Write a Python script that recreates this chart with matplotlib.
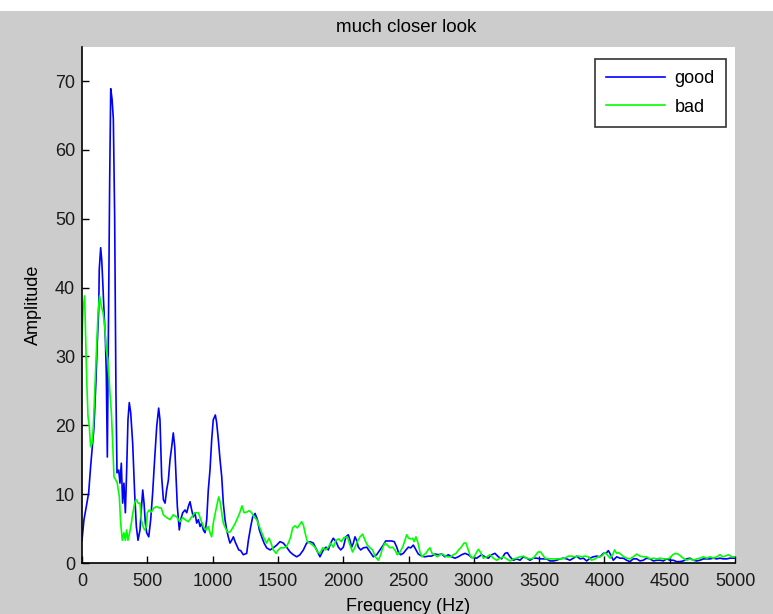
import numpy as np
import matplotlib
matplotlib.use('Agg')
import matplotlib.pyplot as plt
from matplotlib.patches import Rectangle

# readings taken off the spectrum plot (Hz, amplitude)
good_freq = [0, 15, 33, 51, 66, 77, 92, 107, 117, 128, 132, 143, 151, 158, 168, 179, 186, 194, 205, 212,
             220, 230, 240, 250, 260, 268, 281, 291, 301, 311, 321, 332, 342, 352, 362, 373, 388, 403, 416, 429,
             444, 454, 465, 475, 485, 495, 511, 526, 541, 556, 572, 587, 597, 610, 623, 636, 648, 661, 674, 687,
             699, 710, 720, 730, 745, 756, 771, 789, 802, 814, 827, 840, 852, 865, 878, 891, 904, 916, 929, 942,
             955, 967, 980, 993, 1005, 1021, 1031, 1044, 1057, 1070, 1082, 1095, 1108, 1120, 1133, 1146, 1159, 1172, 1184, 1200,
             1215, 1235, 1261, 1274, 1292, 1307, 1325, 1343, 1358, 1376, 1394, 1414, 1440, 1465, 1491, 1516, 1541, 1567, 1593, 1618,
             1644, 1669, 1695, 1720, 1746, 1771, 1797, 1822, 1848, 1868, 1886, 1904, 1924, 1945, 1963, 1981, 2001, 2021, 2039, 2052,
             2065, 2078, 2090, 2103, 2116, 2134, 2154, 2180, 2205, 2231, 2256, 2282, 2307, 2325, 2345, 2371, 2391, 2410, 2422, 2440,
             2460, 2481, 2499, 2517, 2537, 2557, 2575, 2601, 2626, 2652, 2677, 2703, 2728, 2754, 2779, 2805, 2830, 2856, 2881, 2907,
             2933, 2958, 2984, 3022, 3060, 3086, 3111, 3137, 3162, 3188, 3213, 3239, 3257, 3277, 3303, 3328, 3354, 3379, 3405, 3430,
             3456, 3481, 3507, 3532, 3558, 3583, 3609, 3634, 3660, 3685, 3711, 3736, 3762, 3788, 3813, 3839, 3864, 3890, 3915, 3941,
             3966, 3992, 4017, 4030, 4048, 4068, 4094, 4119, 4145, 4170, 4196, 4221, 4247, 4272, 4298, 4323, 4349, 4375, 4400, 4426,
             4451, 4477, 4502, 4528, 4553, 4579, 4604, 4630, 4655, 4681, 4707, 4732, 4758, 4783, 4809, 4834, 4860, 4885, 4911, 4936,
             4962, 4987, 5000]
good_amp = [3.3, 6.3, 8.2, 10.2, 14.0, 16.4, 19.8, 26.6, 32.0, 36.8, 42.6, 45.8, 44.0, 41.2, 36.8, 32.5, 27.6, 15.4, 40.0, 55.7,
            68.9, 67.4, 64.5, 50.4, 24.7, 13.1, 13.5, 11.6, 14.5, 8.7, 11.6, 7.3, 13.5, 20.8, 23.3, 21.8, 17.4, 10.2, 5.3, 3.3,
            4.8, 7.7, 10.6, 8.7, 5.8, 4.4, 3.8, 6.3, 10.2, 15.0, 19.8, 22.5, 20.8, 12.5, 9.2, 8.7, 10.6, 12.0, 15.0, 16.9,
            18.9, 16.9, 12.5, 8.2, 4.8, 6.3, 7.3, 7.7, 7.3, 8.2, 8.9, 7.7, 6.7, 7.3, 5.8, 6.3, 5.3, 5.8, 4.8, 4.4,
            6.3, 10.6, 13.5, 17.9, 20.8, 21.5, 20.4, 17.9, 15.0, 12.5, 8.7, 6.3, 4.8, 3.8, 2.9, 3.3, 3.8, 3.1, 2.6, 1.9,
            1.8, 1.2, 1.4, 3.3, 5.3, 6.7, 7.2, 6.3, 4.8, 3.8, 2.9, 2.2, 1.9, 2.2, 2.6, 3.1, 2.9, 2.3, 1.6, 1.2,
            0.9, 1.2, 1.9, 2.9, 3.1, 2.9, 1.9, 0.9, 1.9, 2.3, 1.9, 2.9, 3.6, 3.1, 2.3, 1.9, 2.3, 3.8, 4.1, 3.3,
            2.3, 2.9, 3.8, 3.3, 2.3, 1.9, 2.2, 2.3, 1.6, 0.9, 1.2, 1.9, 2.6, 3.2, 3.2, 3.2, 3.1, 2.3, 1.6, 1.2,
            1.4, 1.9, 2.3, 2.2, 2.6, 1.9, 1.3, 1.0, 0.9, 1.0, 1.0, 1.3, 1.2, 1.3, 0.9, 1.2, 0.9, 0.7, 0.9, 1.2,
            1.4, 1.2, 0.8, 0.7, 1.2, 0.9, 0.7, 1.2, 1.4, 0.9, 0.6, 1.4, 1.5, 0.9, 0.4, 0.6, 0.4, 0.9, 0.7, 0.4,
            0.7, 0.7, 0.6, 0.6, 0.6, 0.3, 0.3, 0.4, 0.6, 0.7, 0.6, 0.4, 0.7, 1.0, 0.6, 0.7, 0.3, 0.7, 0.9, 1.0,
            0.9, 1.4, 1.5, 1.8, 1.2, 0.4, 0.9, 0.7, 0.7, 0.4, 0.2, 0.6, 0.6, 0.3, 0.4, 0.7, 0.6, 0.3, 0.4, 0.4,
            0.3, 0.6, 0.4, 0.4, 0.2, 0.2, 0.3, 0.6, 0.7, 0.4, 0.3, 0.4, 0.6, 0.6, 0.6, 0.7, 0.6, 0.7, 0.6, 0.6,
            0.7, 0.7, 0.7]

bad_freq = [0, 8, 20, 26, 36, 46, 56, 66, 77, 87, 97, 110, 123, 135, 148, 161, 174, 186, 199, 214,
            225, 235, 245, 258, 270, 286, 296, 309, 321, 332, 342, 352, 365, 378, 390, 403, 416, 429, 444, 454,
            467, 480, 492, 500, 515, 531, 551, 572, 592, 607, 623, 648, 674, 699, 725, 750, 771, 789, 814, 840,
            865, 891, 909, 929, 950, 967, 980, 993, 1005, 1021, 1036, 1047, 1057, 1070, 1082, 1098, 1113, 1133, 1154, 1174,
            1195, 1210, 1225, 1241, 1261, 1281, 1299, 1317, 1338, 1358, 1376, 1394, 1414, 1432, 1447, 1465, 1486, 1503, 1521, 1541,
            1562, 1580, 1598, 1613, 1631, 1649, 1664, 1682, 1695, 1708, 1725, 1746, 1766, 1784, 1802, 1822, 1843, 1863, 1886, 1904,
            1924, 1945, 1966, 1986, 2006, 2032, 2052, 2072, 2090, 2108, 2129, 2149, 2167, 2185, 2205, 2225, 2246, 2269, 2287, 2302,
            2320, 2338, 2358, 2378, 2396, 2414, 2435, 2455, 2473, 2486, 2501, 2517, 2532, 2542, 2557, 2573, 2588, 2603, 2619, 2634,
            2649, 2665, 2680, 2700, 2721, 2741, 2762, 2782, 2802, 2823, 2843, 2864, 2884, 2904, 2925, 2940, 2958, 2976, 2996, 3017,
            3035, 3053, 3073, 3099, 3124, 3150, 3175, 3201, 3226, 3252, 3277, 3303, 3328, 3354, 3379, 3405, 3430, 3456, 3476, 3492,
            3512, 3527, 3545, 3570, 3596, 3622, 3647, 3673, 3698, 3724, 3749, 3775, 3800, 3826, 3851, 3877, 3902, 3928, 3953, 3979,
            4004, 4022, 4043, 4063, 4078, 4094, 4109, 4129, 4150, 4170, 4196, 4221, 4247, 4272, 4298, 4323, 4349, 4375, 4400, 4426,
            4451, 4477, 4502, 4523, 4543, 4564, 4584, 4604, 4630, 4655, 4681, 4707, 4732, 4758, 4783, 4809, 4834, 4860, 4885, 4906,
            4926, 4949, 4975, 5000]
bad_amp = [32.0, 36.8, 38.8, 34.4, 26.6, 21.3, 19.8, 16.9, 17.4, 19.8, 24.7, 30.5, 36.4, 38.8, 37.3, 36.4, 34.4, 31.0, 29.5, 24.7,
           21.8, 17.4, 12.5, 12.1, 11.6, 9.6, 5.8, 3.3, 4.4, 3.3, 4.8, 3.3, 4.4, 5.8, 7.3, 8.7, 9.2, 8.7, 8.7, 6.3,
           5.3, 4.8, 5.3, 7.3, 7.7, 7.4, 8.0, 8.2, 8.0, 8.0, 7.0, 6.6, 6.3, 7.0, 6.7, 6.0, 6.6, 6.3, 6.0, 6.7,
           7.3, 7.3, 6.3, 5.3, 4.8, 5.3, 4.4, 3.8, 5.8, 7.3, 8.7, 9.6, 8.9, 7.3, 5.8, 5.1, 4.5, 4.5, 5.1, 5.8,
           6.7, 7.4, 8.3, 7.3, 7.4, 7.6, 7.3, 6.7, 6.3, 5.3, 4.4, 3.6, 2.9, 3.6, 2.9, 1.9, 1.4, 1.9, 2.2, 2.2,
           2.3, 2.9, 3.8, 5.1, 5.4, 5.1, 5.5, 6.0, 5.5, 4.4, 3.1, 2.9, 2.6, 2.3, 1.6, 1.4, 2.2, 1.9, 2.3, 2.9,
           2.3, 3.3, 3.5, 3.1, 3.7, 3.8, 2.6, 1.6, 2.3, 3.1, 3.8, 4.2, 3.3, 2.6, 2.2, 1.9, 0.9, 0.4, 1.2, 2.2,
           2.9, 2.6, 2.2, 2.3, 1.9, 1.2, 1.6, 2.3, 3.3, 4.1, 3.6, 3.5, 3.6, 3.1, 3.8, 2.9, 1.6, 0.9, 1.2, 1.4,
           1.9, 2.2, 1.4, 1.2, 0.9, 1.2, 1.3, 1.0, 0.9, 0.9, 1.2, 1.4, 1.9, 2.3, 2.9, 2.9, 1.9, 0.9, 0.7, 1.4,
           2.0, 1.5, 0.7, 0.9, 1.2, 0.7, 0.4, 0.7, 0.9, 0.6, 0.3, 0.6, 0.7, 0.9, 1.0, 0.7, 0.6, 0.7, 1.2, 1.6,
           1.6, 1.2, 0.7, 0.6, 0.6, 0.6, 0.6, 0.6, 0.7, 1.0, 1.0, 0.9, 1.0, 0.9, 1.0, 0.9, 0.4, 0.6, 0.9, 1.0,
           1.5, 1.2, 0.7, 1.2, 1.9, 1.4, 1.5, 1.2, 0.9, 0.7, 0.6, 0.9, 1.3, 1.0, 0.9, 0.9, 0.6, 0.7, 0.6, 0.7,
           0.6, 0.6, 0.7, 1.2, 1.4, 1.3, 1.0, 0.7, 0.4, 0.6, 0.4, 0.6, 0.7, 0.9, 0.7, 0.9, 0.7, 0.9, 1.2, 0.9,
           1.0, 1.2, 0.9, 0.9]

x_ticks = [0, 500, 1000, 1500, 2000, 2500, 3000, 3500, 4000, 4500, 5000]
y_ticks = [0, 10, 20, 30, 40, 50, 60, 70]

plt.rcParams['font.family'] = ['Liberation Sans', 'DejaVu Sans']
fs = 13

W, H = 773, 614
fig = plt.figure(figsize=(W / 100, H / 100), dpi=100, facecolor='#cccccc')
# white strip above the grey figure area
fig.add_artist(Rectangle((0, 1 - 11 / H), 1, 11 / H, transform=fig.transFigure,
                         facecolor='white', edgecolor='none'))

ax = fig.add_axes([82 / W, 1 - 563 / H, (735 - 82) / W, (563 - 46.7) / H])
ax.set_facecolor('white')

ax.plot(good_freq, good_amp, color='#0000ff', lw=1.2, label='good')
ax.plot(bad_freq, bad_amp, color='#00ff00', lw=1.2, label='bad')

ax.set_xlim(0, 5000)
ax.set_ylim(0, 75)
ax.set_xticks(x_ticks)
ax.set_yticks(y_ticks)
ax.tick_params(direction='in', length=5, width=1, colors='black', labelsize=fs)
ax.tick_params(axis='x', pad=7)
ax.tick_params(axis='y', pad=5)
for lab in ax.get_xticklabels() + ax.get_yticklabels():
    lab.set_color('#1a1a1a')

ax.spines['top'].set_visible(False)
ax.spines['right'].set_visible(False)
ax.spines['left'].set_linewidth(1.2)
ax.spines['bottom'].set_linewidth(1.2)

ax.set_xlabel('Frequency (Hz)', fontsize=fs, labelpad=6)
ax.set_ylabel('Amplitude', fontsize=fs, labelpad=9)
fig.text(406 / W, 1 - 27 / H, 'much closer look', ha='center', va='center', fontsize=fs + 0.5)

leg = ax.legend(loc='upper right', bbox_to_anchor=(0.986, 0.9756), borderaxespad=0,
                fontsize=fs, fancybox=False, framealpha=1, edgecolor='#333333',
                handlelength=3.3, handletextpad=0.5, labelspacing=0.62, borderpad=0.62)
leg.get_frame().set_linewidth(1.2)

fig.savefig('out.png', dpi=100, facecolor=fig.get_facecolor())
